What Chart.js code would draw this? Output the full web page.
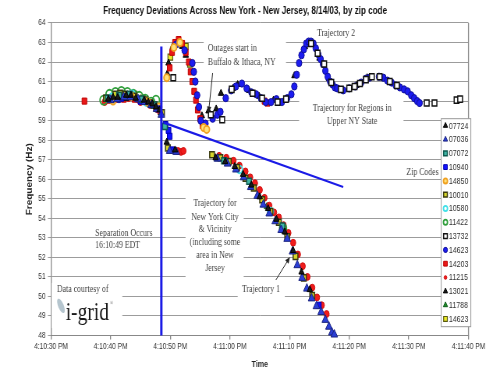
<!DOCTYPE html>
<html>
<head>
<meta charset="utf-8">
<script src="https://cdn.jsdelivr.net/npm/chart.js@4/dist/chart.umd.min.js"></script>
<style>
  html, body { margin: 0; padding: 0; background: #fff; overflow: hidden; }
  #wrap { width: 628px; height: 370px; transform: scaleX(0.78); transform-origin: 0 0; }
</style>
</head>
<body>
<div id="wrap"><canvas id="c" width="628" height="370"></canvas></div>
<script>
// Time axis: seconds after 4:10:30 PM
const tickLabels = ['4:10:30 PM', '4:10:40 PM', '4:10:50 PM', '4:11:00 PM', '4:11:10 PM', '4:11:20 PM', '4:11:30 PM', '4:11:40 PM'];

// Frequency readings per zip code (t = seconds after 4:10:30 PM, f = Hz)
const t07724 = [9.6, 10.4, 11.2, 12.6, 13.4, 14.2, 15.6, 16.3, 17.0, 17.6, 18.2, 19.4, 20.8, 27.6, 29.2, 30.8, 32.2, 33.6, 35.0, 36.4, 37.8, 39.2, 40.6, 42.0, 43.4];
const f07724 = [60.1, 60.2, 60.2, 60.3, 60.3, 60.15, 60.05, 59.95, 59.85, 59.7, 59.55, 57.9, 57.5, 57.1, 56.9, 56.65, 56.25, 55.7, 55.1, 54.5, 53.95, 53.3, 52.35, 51.25, 50.35];

const t07036 = [10.0, 11.1, 12.2, 13.3, 14.6, 15.7, 16.8, 17.7, 18.5, 19.9, 21.0, 27.9, 29.6, 31.0, 32.3, 33.5, 34.6, 35.6, 36.6, 37.6, 38.6, 39.6, 40.5, 41.3, 42.1, 42.9, 43.7, 44.5, 45.3, 46.0, 46.6, 47.1, 47.5];
const f07036 = [60.05, 60.1, 60.2, 60.2, 60.1, 59.95, 59.8, 59.6, 59.3, 57.45, 57.4, 57.05, 56.8, 56.5, 56.1, 55.6, 55.15, 54.7, 54.25, 53.85, 53.4, 52.95, 52.3, 51.6, 50.95, 50.4, 49.9, 49.5, 49.2, 48.8, 48.45, 48.15, 48.05];

const t07072 = [9.5, 11.4, 13.2, 15.2, 17.3, 19.1, 29.0, 33.2, 38.8];
const f07072 = [60.15, 60.3, 60.35, 60.1, 59.8, 58.7, 56.95, 55.9, 53.6];

const t10940 = [11.8, 15.0, 18.0, 19.2, 19.7, 19.9, 20.3, 44.9];
const f10940 = [60.15, 60.0, 59.6, 58.8, 58.5, 58.2, 57.5, 49.55];

const t14850 = [10.4, 13.4, 16.2, 18.1, 19.4, 20.6, 21.6, 25.6, 26.1];
const f14850 = [60.0, 60.25, 59.95, 59.7, 61.2, 62.75, 63.0, 58.65, 58.55];

const t10010 = [9.2, 10.8, 11.6, 12.4, 14.0, 15.8, 16.6, 17.4, 18.6, 19.6, 27.0, 28.4, 29.8, 31.2, 32.6, 34.0, 35.4, 36.8, 38.2, 39.6, 41.0, 42.4, 43.8];
const f10010 = [60.15, 60.35, 60.4, 60.35, 60.25, 60.05, 59.9, 59.8, 59.4, 57.6, 57.25, 57.1, 56.9, 56.6, 56.05, 55.55, 54.95, 54.35, 53.8, 53.05, 52.05, 50.95, 50.05];

const t10580 = [10.2, 13.6, 16.0, 31.6, 36.8];
const f10580 = [60.2, 60.35, 59.95, 56.5, 54.35];

const t11422 = [8.8, 9.8, 10.8, 11.8, 12.8, 13.8, 14.8, 15.8, 16.8, 17.6, 38.9];
const f11422 = [60.05, 60.35, 60.45, 60.5, 60.45, 60.35, 60.25, 60.1, 59.95, 60.05, 53.5];

const t13732 = [12.6, 17.2, 20.5, 26.8, 28.7, 30.3, 33.8, 35.4, 38.0, 39.4, 43.6, 44.7, 45.8, 47.0, 48.6, 50.0, 50.9, 51.8, 52.8, 53.8, 55.1, 56.8, 58.0, 63.0, 64.3, 68.0, 68.6];
const f13732 = [60.2, 59.8, 61.2, 59.3, 59.05, 60.6, 60.4, 60.15, 59.95, 60.1, 62.95, 62.45, 61.9, 60.95, 60.6, 60.65, 60.75, 60.9, 61.1, 61.25, 61.25, 61.0, 60.8, 59.9, 59.9, 60.05, 60.1];

const t14623 = [11.4, 15.8, 21.0, 22.4, 23.7, 23.95, 24.2, 24.5, 24.8, 25.1, 25.9, 27.1, 27.9, 28.4, 29.3, 30.2, 31.0, 32.0, 32.8, 33.6, 34.4, 35.2, 36.0, 36.9, 37.8, 38.7, 39.6, 40.3, 40.8, 41.2, 41.6, 42.0, 42.4, 42.8, 43.2, 43.6, 44.0, 44.4, 44.8, 45.2, 45.6, 46.0, 46.4, 46.8, 47.2, 47.6, 48.0, 49.0, 50.0, 51.0, 52.0, 52.8, 53.4, 55.0, 55.7, 56.4, 57.1, 57.8, 58.5, 59.2, 59.8, 60.4, 60.9, 61.4, 61.8];
const f14623 = [60.1, 60.0, 62.9, 62.6, 61.95, 61.5, 61.0, 60.3, 59.7, 59.0, 58.85, 59.1, 59.3, 59.45, 60.15, 60.55, 60.75, 60.9, 60.65, 60.45, 60.35, 60.15, 59.95, 59.95, 60.1, 59.95, 60.15, 60.35, 60.75, 61.35, 61.95, 62.35, 62.65, 62.95, 63.05, 63.05, 62.95, 62.7, 62.4, 62.15, 61.9, 61.55, 61.25, 61.0, 60.85, 60.7, 60.65, 60.55, 60.65, 60.75, 60.95, 61.15, 61.2, 61.25, 61.2, 61.05, 60.95, 60.8, 60.7, 60.6, 60.5, 60.3, 60.15, 60.0, 59.9];

const t14203 = [5.6, 9.8, 12.2, 14.0, 16.4, 17.6, 19.9, 20.3, 20.8, 21.4, 22.0, 22.6, 23.1, 23.4, 23.7, 24.0, 24.3, 24.6, 25.0, 25.4, 35.8, 36.3];
const f14203 = [60.0, 60.05, 60.1, 60.1, 59.9, 59.65, 61.7, 62.5, 63.0, 63.15, 62.95, 62.5, 62.0, 61.5, 61.0, 60.5, 60.05, 59.55, 59.1, 58.75, 60.0, 59.9];

const t11215 = [9.0, 11.0, 13.0, 15.0, 16.6, 18.0, 21.3, 21.8, 22.2, 28.2, 29.4, 30.6, 31.6, 32.6, 33.4, 34.2, 35.0, 35.8, 36.6, 37.4, 38.2, 39.0, 39.8, 40.6, 41.4, 42.2, 43.0, 43.8, 44.6, 45.4, 46.2];
const f11215 = [59.95, 60.1, 60.15, 59.95, 59.8, 59.55, 57.45, 57.4, 57.45, 57.2, 57.1, 56.95, 56.7, 56.4, 56.1, 55.8, 55.45, 55.05, 54.65, 54.3, 54.05, 53.65, 53.25, 52.75, 52.15, 51.55, 51.0, 50.45, 49.95, 49.55, 49.1];

const t13021 = [11.0, 12.9, 14.8, 16.0, 17.9, 18.4, 19.5, 19.7, 20.4, 21.2, 22.0, 22.6, 25.3, 26.4, 27.7, 28.5, 30.5, 31.3, 33.2, 34.9, 37.3, 39.1, 40.8, 42.6, 45.0, 46.6, 48.3, 51.2, 53.0, 56.0, 58.2];
const f13021 = [60.2, 60.3, 60.05, 59.95, 59.55, 59.4, 61.4, 61.95, 62.8, 63.05, 62.8, 62.35, 59.25, 59.5, 59.6, 60.4, 60.65, 60.85, 60.55, 60.25, 60.05, 60.05, 61.3, 62.8, 62.2, 61.15, 60.6, 60.8, 61.2, 61.15, 60.75];

const t11788 = [10.6, 14.2, 17.8, 36.2, 39.4];
const f11788 = [60.15, 60.15, 59.65, 54.6, 53.3];

const t14623y = [9.3, 10.6, 12.0, 14.0, 15.4, 16.8, 18.0, 20.0, 21.1, 22.6, 23.3];
const f14623y = [60.15, 60.25, 60.3, 60.35, 60.15, 59.9, 59.6, 62.25, 62.95, 62.8, 61.9];

// Separation instant (16:10:49) and the drawn trend line
const sepT = [18.5, 18.5];
const sepF = [48, 62.8];
const trendT = [18.9, 49.0];
const trendF = [58.9, 55.6];

// Text notes on the plot, placed in axis units (seconds, Hz)
const notes = [
  { lines: ['Outages start in', 'Buffalo & Ithaca, NY'], t: 26.3, f: [62.72, 62.0], align: 'left' },
  { lines: ['Trajectory 2'], t: 47.8, f: [63.49], align: 'center' },
  { lines: ['Trajectory for Regions in', 'Upper NY State'], t: 50.5, f: [59.65, 58.98], align: 'center' },
  { lines: ['Zip Codes'], t: 62.3, f: [56.37], align: 'center' },
  { lines: ['Separation Occurs', '16:10:49 EDT'], t: 7.4, f: [53.25, 52.63], align: 'left' },
  { lines: ['Trajectory for', 'New York City', '& Vicinity', '(including some', 'area in New', 'Jersey'], t: 27.5, f: [54.78, 54.07, 53.45, 52.79, 52.12, 51.46], align: 'center' },
  { lines: ['Trajectory 1'], t: 35.2, f: [50.38], align: 'center' },
  { lines: ['Data courtesy of'], t: 1.0, f: [50.38], align: 'left' }
];
// White backing behind the notes: [t0, t1, fTop, fBottom]
const noteBoxes = [
  [25.6, 39.4, 63.23, 61.6],
  [41.6, 59.1, 60.1, 58.62],
  [22.56, 32.3, 55.24, 50.8],
  [31.3, 39.2, 50.69, 49.92],
  [0.1, 11.95, 50.69, 48.38]
];
// Arrows: [tFrom, fFrom, tTo, fTo]
const arrows = [
  [27.1, 61.44, 26.4, 59.39],
  [37.7, 50.84, 40.07, 52.02]
];

const SANS = "'Liberation Sans', Arial, sans-serif";
const SERIF = "'Liberation Serif', 'Times New Roman', serif";
Chart.defaults.font.family = SANS;

function pts(ts, fs) { return ts.map((t, i) => ({ x: t, y: fs[i] })); }

function zipSet(label, ts, fs, style) {
  return Object.assign({
    label: label, zip: true, data: pts(ts, fs), showLine: false, clip: false,
    pointHoverRadius: style.pointRadius
  }, style);
}

const zipSets = [
  zipSet('07724', t07724, f07724, { pointStyle: 'triangle', pointRadius: 4, pointBackgroundColor: '#1a1a1a', pointBorderColor: '#000', pointBorderWidth: 1, legendRadius: 3.2 }),
  zipSet('07036', t07036, f07036, { pointStyle: 'triangle', pointRadius: 5, pointBackgroundColor: '#2b3fd6', pointBorderColor: '#1a237e', pointBorderWidth: 1, legendRadius: 3.2 }),
  zipSet('07072', t07072, f07072, { pointStyle: 'rect', pointRadius: 4.3, pointBackgroundColor: '#3fb5a5', pointBorderColor: '#105a50', pointBorderWidth: 1.5, legendRadius: 3.4 }),
  zipSet('10940', t10940, f10940, { pointStyle: 'rect', pointRadius: 4.3, pointBackgroundColor: '#1010ff', pointBorderColor: '#0000b0', pointBorderWidth: 1, legendRadius: 3.4 }),
  zipSet('14850', t14850, f14850, { pointStyle: 'circle', pointRadius: 3.6, pointBackgroundColor: '#ffe27a', pointBorderColor: '#f0a020', pointBorderWidth: 1.8, legendRadius: 2.6 }),
  zipSet('10010', t10010, f10010, { pointStyle: 'rect', pointRadius: 4.3, pointBackgroundColor: '#d6d62a', pointBorderColor: '#3a3a10', pointBorderWidth: 1.5, legendRadius: 3.4 }),
  zipSet('10580', t10580, f10580, { pointStyle: 'circle', pointRadius: 3.8, pointBackgroundColor: 'rgba(0,0,0,0)', pointBorderColor: '#3fe0e8', pointBorderWidth: 1.8, legendRadius: 2.6 }),
  zipSet('11422', t11422, f11422, { pointStyle: 'circle', pointRadius: 4.5, pointBackgroundColor: 'rgba(0,0,0,0)', pointBorderColor: '#2e9e3a', pointBorderWidth: 1.8, legendRadius: 2.6 }),
  zipSet('13732', t13732, f13732, { pointStyle: 'rect', pointRadius: 4.3, pointBackgroundColor: '#ffffff', pointBorderColor: '#111', pointBorderWidth: 1.5, legendRadius: 3.4 }),
  zipSet('14623', t14623, f14623, { pointStyle: 'circle', pointRadius: 3.6, pointBackgroundColor: '#1c1cf0', pointBorderColor: '#10109a', pointBorderWidth: 1, legendRadius: 2.6 }),
  zipSet('14203', t14203, f14203, { pointStyle: 'rect', pointRadius: 4.3, pointBackgroundColor: '#e81818', pointBorderColor: '#c00000', pointBorderWidth: 1, legendRadius: 3.4 }),
  zipSet('11215', t11215, f11215, { pointStyle: 'circle', pointRadius: 3.4, pointBackgroundColor: '#f01c1c', pointBorderColor: '#d01010', pointBorderWidth: 1, legendRadius: 1.8 }),
  zipSet('13021', t13021, f13021, { pointStyle: 'triangle', pointRadius: 4, pointBackgroundColor: '#1a1a1a', pointBorderColor: '#000', pointBorderWidth: 1, legendRadius: 3.2 }),
  zipSet('11788', t11788, f11788, { pointStyle: 'triangle', pointRadius: 4, pointBackgroundColor: '#1e8c2a', pointBorderColor: '#0e5a18', pointBorderWidth: 1, legendRadius: 3.2 }),
  zipSet('14623', t14623y, f14623y, { pointStyle: 'rect', pointRadius: 4.3, pointBackgroundColor: '#ecec28', pointBorderColor: '#5a5a10', pointBorderWidth: 1.2, legendRadius: 3.4 })
];

const lineSets = [
  { label: 'separation', data: pts(sepT, sepF), showLine: true, pointRadius: 0, borderColor: '#1a1ae6', borderWidth: 3, clip: false },
  { label: 'trend', data: pts(trendT, trendF), showLine: true, pointRadius: 0, borderColor: '#1a1ae6', borderWidth: 2.2, clip: false }
];

// Notes, white backings and arrows on the plot area
const notesPlugin = {
  id: 'notes',
  beforeDatasetsDraw(chart) {
    const { ctx, scales: { x, y } } = chart;
    ctx.save();
    ctx.fillStyle = '#ffffff';
    noteBoxes.forEach(b => {
      const x0 = x.getPixelForValue(b[0]), x1 = x.getPixelForValue(b[1]);
      const y0 = y.getPixelForValue(b[2]), y1 = y.getPixelForValue(b[3]);
      ctx.fillRect(x0, y0, x1 - x0, y1 - y0);
    });
    ctx.fillStyle = '#444';
    ctx.font = '10px ' + SERIF;
    ctx.textBaseline = 'middle';
    notes.forEach(n => {
      ctx.textAlign = n.align;
      const px = x.getPixelForValue(n.t);
      n.lines.forEach((s, i) => ctx.fillText(s, px, y.getPixelForValue(n.f[i])));
    });
    // i-grid logo
    const lx = x.getPixelForValue(2.45), ly = y.getPixelForValue(48.8);
    ctx.fillStyle = 'rgba(120,150,165,0.55)';
    ctx.beginPath();
    ctx.ellipse(lx - 6, ly - 14, 3.5, 8, -0.5, 0, Math.PI * 2);
    ctx.fill();
    ctx.fillStyle = '#1a1a1a';
    ctx.textAlign = 'left';
    ctx.textBaseline = 'alphabetic';
    ctx.font = '25px ' + SERIF;
    ctx.fillText('i-grid', lx, ly);
    const w = ctx.measureText('i-grid').width;
    ctx.font = '6px ' + SERIF;
    ctx.fillStyle = '#777';
    ctx.fillText('\u00AE', lx + w + 1, ly - 15);
    ctx.restore();
  },
  afterDatasetsDraw(chart) {
    const { ctx, chartArea, scales: { x, y } } = chart;
    ctx.save();
    // right edge of the plot frame
    ctx.strokeStyle = '#888';
    ctx.lineWidth = 1.3;
    ctx.beginPath();
    ctx.moveTo(chartArea.right, chartArea.top);
    ctx.lineTo(chartArea.right, chartArea.bottom);
    ctx.stroke();
    // arrows
    ctx.strokeStyle = '#222';
    ctx.fillStyle = '#222';
    ctx.lineWidth = 1;
    arrows.forEach(a => {
      const x0 = x.getPixelForValue(a[0]), y0 = y.getPixelForValue(a[1]);
      const x1 = x.getPixelForValue(a[2]), y1 = y.getPixelForValue(a[3]);
      const ang = Math.atan2(y1 - y0, x1 - x0);
      ctx.beginPath();
      ctx.moveTo(x0, y0);
      ctx.lineTo(x1 - Math.cos(ang) * 4, y1 - Math.sin(ang) * 4);
      ctx.stroke();
      ctx.beginPath();
      ctx.moveTo(x1, y1);
      ctx.lineTo(x1 - Math.cos(ang - 0.4) * 7, y1 - Math.sin(ang - 0.4) * 7);
      ctx.lineTo(x1 - Math.cos(ang + 0.4) * 7, y1 - Math.sin(ang + 0.4) * 7);
      ctx.closePath();
      ctx.fill();
    });
    // zip code legend box
    const sets = chart.data.datasets.filter(d => d.zip);
    const right = chartArea.right + 3;
    const left = right - 38;
    const top = y.getPixelForValue(59.1);
    const step = 13.8;
    const bottom = top + step * sets.length + 1;
    ctx.fillStyle = '#fff';
    ctx.fillRect(left, top, right - left, bottom - top);
    ctx.strokeStyle = '#999';
    ctx.lineWidth = 1;
    ctx.strokeRect(left, top, right - left, bottom - top);
    ctx.font = '9px ' + SANS;
    ctx.textBaseline = 'middle';
    ctx.textAlign = 'left';
    sets.forEach((d, i) => {
      const cy = top + 7 + i * step;
      ctx.fillStyle = d.pointBackgroundColor;
      ctx.strokeStyle = d.pointBorderColor;
      ctx.lineWidth = d.pointBorderWidth;
      Chart.helpers.drawPoint(ctx, { pointStyle: d.pointStyle, rotation: 0, radius: d.legendRadius, borderWidth: d.pointBorderWidth }, left + 5.5, cy);
      ctx.fillStyle = '#333';
      ctx.fillText(d.label, left + 10, cy + 0.5);
    });
    ctx.restore();
  }
};

new Chart(document.getElementById('c'), {
  type: 'scatter',
  data: { datasets: lineSets.concat(zipSets) },
  options: {
    responsive: false,
    animation: false,
    devicePixelRatio: 1,
    layout: { padding: { left: 27.8, right: 27.4, top: 0, bottom: 0 } },
    plugins: {
      legend: { display: false },
      tooltip: { enabled: false },
      title: {
        display: true,
        text: 'Frequency Deviations Across New York - New Jersey, 8/14/03, by zip code',
        color: '#111',
        font: { size: 10.4, weight: 'bold' },
        padding: { top: 5, bottom: 5.5 }
      }
    },
    scales: {
      x: {
        type: 'linear',
        min: 0, max: 70,
        ticks: {
          stepSize: 10, autoSkip: false, maxRotation: 0, padding: 2,
          color: '#333', font: { size: 8.5 },
          callback: (v, i) => tickLabels[i]
        },
        grid: { drawOnChartArea: false, drawTicks: true, tickLength: 4, color: '#888', lineWidth: 1.3 },
        border: { color: '#888', width: 1 },
        title: { display: true, text: 'Time', color: '#222', font: { size: 9, weight: 'bold' }, padding: { top: 0, bottom: 0.5 } },
        afterFit: s => { s.height = 34.5; }
      },
      y: {
        min: 48, max: 64,
        ticks: { stepSize: 1, padding: 3, color: '#333', font: { size: 8.5 } },
        grid: { color: '#9c9c9c', lineWidth: 1, tickLength: 4 },
        border: { color: '#888', width: 1.3 },
        title: { display: true, text: 'Frequency (Hz)', color: '#222', font: { size: 10, weight: 'bold' }, padding: { top: 4, bottom: 0 } },
        afterFit: s => { s.width = 37.6; }
      }
    }
  },
  plugins: [notesPlugin]
});
</script>
</body>
</html>
